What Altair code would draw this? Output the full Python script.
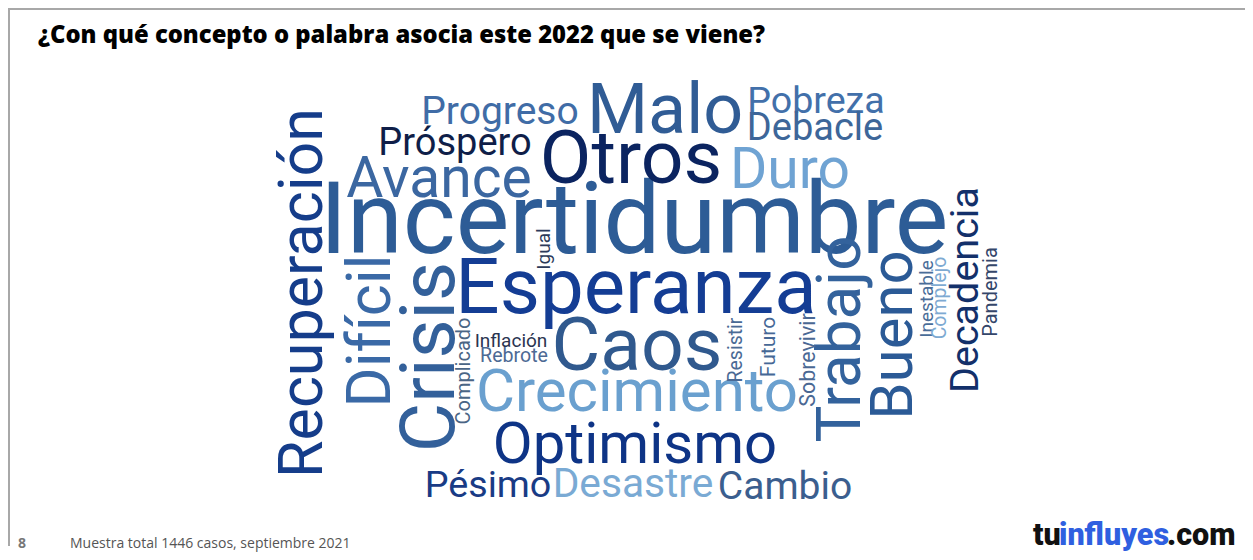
import altair as alt
import pandas as pd

# ---- word cloud content (word, layout in page pixels, font size, rotation, colour)
words = ["Incertidumbre", "Esperanza", "Otros", "Malo", "Caos", "Crecimiento", "Optimismo",
         "Avance", "Duro", "Progreso", "Próspero", "Pobreza", "Debacle", "Pésimo", "Desastre",
         "Cambio", "Inflación", "Rebrote",
         "Recuperación", "Difícil", "Crisis", "Trabajo", "Bueno", "Decadencia", "Complicado",
         "Igual", "Resistir", "Futuro", "Sobrevivir", "Inestable", "Complejo", "Pandemia"]
word_x = [634, 636, 631, 665, 637, 637, 635,
          439, 790, 500, 455, 816, 815, 488, 633,
          785, 511, 514,
          322, 390, 454, 860, 912, 978, 470,
          550, 742, 775, 815, 933, 946, 997]
word_y = [253, 313, 183, 133, 370, 411, 463,
          197, 188, 124, 155, 113, 140, 497, 497,
          499, 347, 362,
          293, 331, 357, 339, 335, 290, 371,
          249, 350, 347, 360, 299, 298, 292]
word_size = [101, 78, 75, 70, 75, 60, 58,
             57, 57, 39, 38, 37.6, 38, 37.7, 40.7,
             39, 19, 19.6,
             61, 61, 76, 62, 60, 39.5, 20,
             19, 19.5, 21, 21.4, 19, 19.5, 20]
word_angle = [0] * 18 + [270] * 14
word_color = ["#2d5c96", "#143d94", "#0b2460", "#305c95", "#30598e", "#6aa0cf", "#0e3486",
              "#3b67a1", "#6fa3d3", "#406ca6", "#0f1e48", "#4270aa", "#3d6699", "#193b85", "#7aaad4",
              "#3b5e8e", "#2a3450", "#4d6a94",
              "#153d8a", "#3a69a6", "#33609a", "#33629c", "#2b5a96", "#13306a", "#4a6585",
              "#2c3a5a", "#4a6a95", "#466896", "#4a6894", "#4a6d98", "#7eaad2", "#34466a"]

title_text = ["¿Con qué concepto o palabra asocia este 2022 que se viene?"]
page_number = ["8"]
source_note = ["Muestra total 1446 casos, septiembre 2021"]
logo_parts = ["tu", "influyes", ".com"]
logo_colors = ["#111111", "#2f5fe0", "#111111"]

W, H = 1237, 544

cloud_df = pd.DataFrame({"word": words, "x": word_x, "y": word_y, "size": word_size,
                         "angle": word_angle, "color": word_color})
title_df = pd.DataFrame({"t": title_text, "x": [38], "y": [43]})
page_df = pd.DataFrame({"t": page_number, "x": [18], "y": [548]})
note_df = pd.DataFrame({"t": source_note, "x": [70], "y": [548]})
logo_df = pd.DataFrame({"t": logo_parts, "x": [1033, 1059, 1167], "y": [545] * 3,
                        "c": logo_colors})

xs = alt.Scale(domain=[8, 8 + W], nice=False, zero=False)
ys = alt.Scale(domain=[8, 8 + H], nice=False, zero=False, reverse=True)


def X():
    return alt.X("x:Q", scale=xs, axis=None)


def Y():
    return alt.Y("y:Q", scale=ys, axis=None)


dummy = pd.DataFrame({"a": [0]})
border_top = alt.Chart(dummy).mark_rule(color="#a8a8a8", strokeWidth=2).encode(
    x=alt.value(0), x2=alt.value(W), y=alt.value(1))
border_left = alt.Chart(dummy).mark_rule(color="#a8a8a8", strokeWidth=2).encode(
    x=alt.value(1), y=alt.value(0), y2=alt.value(H - 6))

cloud = alt.Chart(cloud_df).mark_text(font="Roboto", baseline="alphabetic", align="center").encode(
    x=X(), y=Y(), text="word:N",
    size=alt.Size("size:Q", scale=None),
    angle=alt.Angle("angle:Q", scale=None),
    color=alt.Color("color:N", scale=None))

title = alt.Chart(title_df).mark_text(font="Open Sans", fontWeight=800, fontSize=23.8,
                                      align="left", baseline="alphabetic", color="#000000").encode(
    x=X(), y=Y(), text="t:N")

page = alt.Chart(page_df).mark_text(font="Open Sans", fontWeight="bold", fontSize=14,
                                    align="left", baseline="alphabetic", color="#777777").encode(
    x=X(), y=Y(), text="t:N")

note = alt.Chart(note_df).mark_text(font="Open Sans", fontSize=14,
                                    align="left", baseline="alphabetic", color="#555555").encode(
    x=X(), y=Y(), text="t:N")

logo = alt.Chart(logo_df).mark_text(font="Roboto", fontWeight=900, fontSize=30.5,
                                    align="left", baseline="alphabetic").encode(
    x=X(), y=Y(), text="t:N", color=alt.Color("c:N", scale=None))

chart = alt.layer(border_top, border_left, cloud, title, page, note, logo).properties(
    width=W, height=H, padding=0, autosize="none", background="white"
).configure_view(stroke=None)

chart.save("out.html", embed_options={"renderer": "svg", "actions": False})
